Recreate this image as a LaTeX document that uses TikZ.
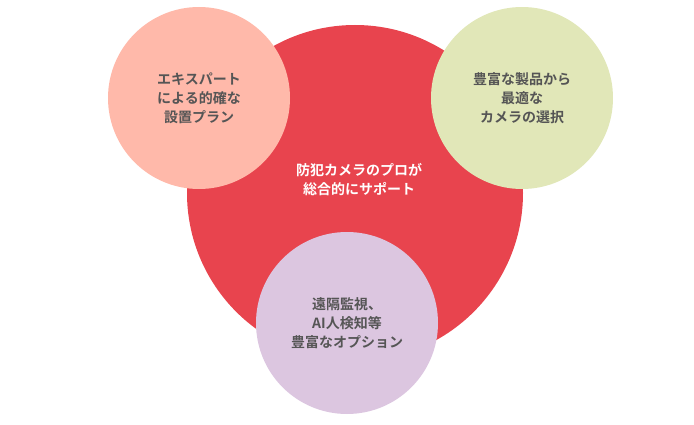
\documentclass[tikz,border=0pt]{standalone}
\usepackage{fontspec}
\newfontfamily\cjk{Noto Sans CJK JP}[BoldFont={Noto Sans CJK JP Bold}]
\definecolor{mainred}{HTML}{E8444E}
\definecolor{pinkc}{HTML}{FFB9AA}
\definecolor{greenc}{HTML}{E1E7B8}
\definecolor{purplec}{HTML}{DCC6E0}
\definecolor{txtgray}{HTML}{555555}
\begin{document}
\begin{tikzpicture}[x=1pt,y=-1pt,
bigc/.style={circle,minimum size=336pt,fill=mainred,inner sep=0pt},
subc/.style={circle,minimum size=182pt,inner sep=0pt,align=center,
  font=\cjk\bfseries\fontsize{14}{19}\selectfont,text=txtgray}]
\useasboundingbox (0,0) rectangle (694,425);
%Main circle
\node[bigc] (main) at (355,193) {};
\node[align=center,text=white,font=\cjk\bfseries\fontsize{14}{19}\selectfont] (mainlbl) at (359,180) {防犯カメラのプロが\\総合的にサポート};
%Sub circles
\node[subc,fill=pinkc] (expert) at (199,98) {エキスパート\\による的確な\\設置プラン};
\node[subc,fill=greenc] (camera) at (522,98) {豊富な製品から\\最適な\\カメラの選択};
\node[subc,fill=purplec] (option) at (347,323) {遠隔監視、\\AI人検知等\\豊富なオプション};
\end{tikzpicture}
\end{document}
